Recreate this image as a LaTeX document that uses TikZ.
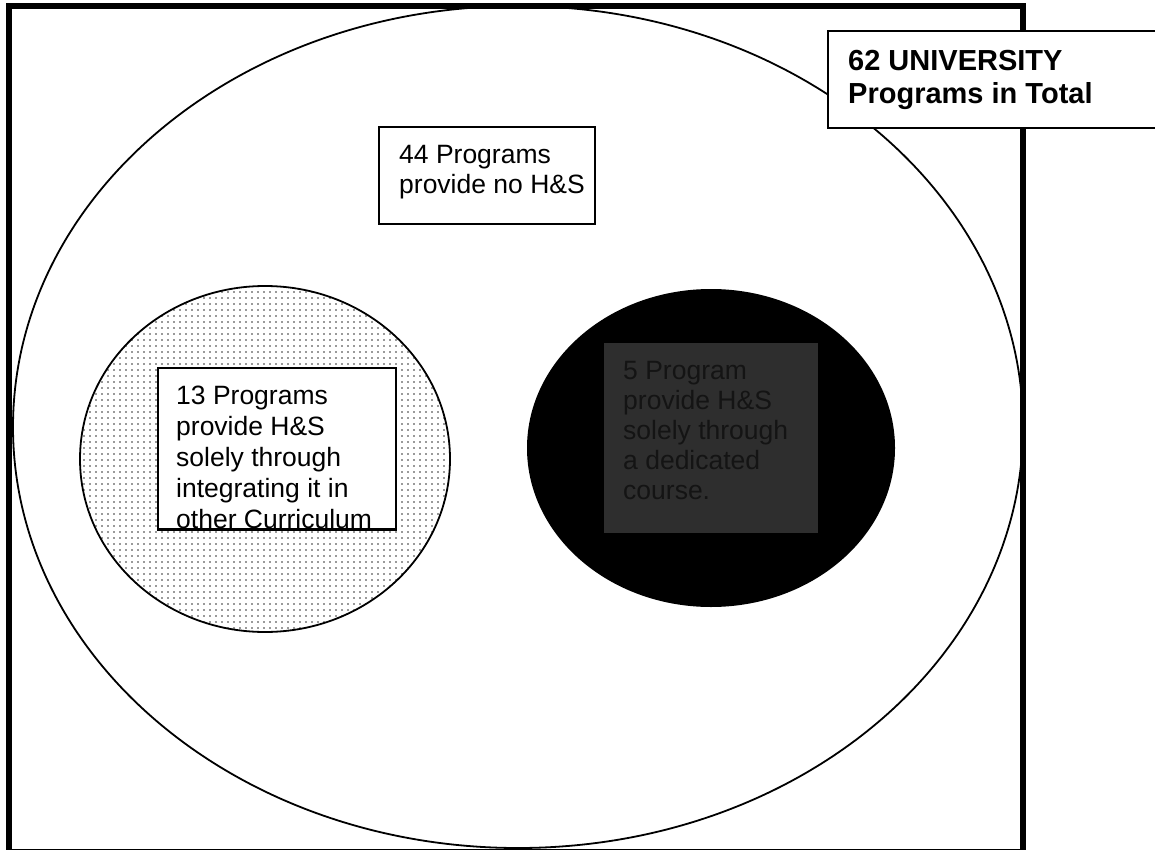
\documentclass[tikz,border=0pt]{standalone}
\usepackage{fontspec}
\setmainfont{Liberation Sans}
\usetikzlibrary{positioning,patterns.meta}
\definecolor{darkfill}{gray}{0.18}
\definecolor{darktext}{gray}{0.08}
\definecolor{dotgray}{gray}{0.2}
\begin{document}
\begin{tikzpicture}[x=1pt, y=-1pt,
    txt/.style={font=\fontsize{26.5}{30}\selectfont, align=left, inner sep=0pt},
    bigtxt/.style={font=\fontsize{29}{33}\selectfont\bfseries, align=left, inner sep=0pt},
    box/.style={draw, line width=1.8pt, fill=white, inner sep=0pt, anchor=north west},
    ring/.style={draw, line width=1.8pt}]
  \useasboundingbox (0,0) rectangle (1155,850);
  % frame and sets
  \draw[line width=6pt] (9,6) rectangle (1023,852);
  \draw[ring] (518,427) ellipse [x radius=505pt, y radius=421pt];
  \draw[ring, pattern={Dots[distance=6pt, radius=0.85pt]}, pattern color=dotgray]
    (265,459) ellipse [x radius=185pt, y radius=173pt];
  \fill (711,448) ellipse [x radius=184pt, y radius=159pt];
  % labels
  \node[box, minimum width=216pt, minimum height=97pt] (b44) at (378,126) {};
  \node[txt, below right=19pt and 21pt of b44.north west] (t44) {44 Programs\\provide no H\&S};
  \node[box, minimum width=238pt, minimum height=161pt] (b13) at (157,367) {};
  \begin{scope}
    \clip (b13.north west) rectangle (b13.south east);
    \node[txt, font=\fontsize{26.5}{31}\selectfont, below right=19pt and 19pt of b13.north west] (t13)
      {13 Programs\\provide H\&S\\solely through\\integrating it in\\other Curriculum};
  \end{scope}
  \draw[line width=1.8pt] (b13.south west) -- (b13.south east);
  \node[fill=darkfill, inner sep=0pt, anchor=north west,
    minimum width=214pt, minimum height=190pt] (b5) at (604,343) {};
  \node[txt, text=darktext, below right=18pt and 19pt of b5.north west] (t5)
    {5 Program\\provide H\&S\\solely through\\a dedicated\\course.};
  \node[box, minimum width=340pt, minimum height=97pt] (btot) at (827,30) {};
  \node[bigtxt, below right=20pt and 21pt of btot.north west] (ttot) {62 UNIVERSITY\\Programs in Total};
\end{tikzpicture}
\end{document}
